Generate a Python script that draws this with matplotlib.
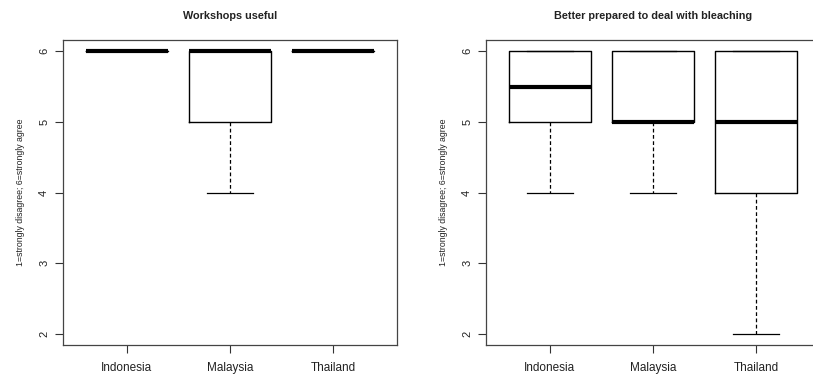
import matplotlib
matplotlib.use("Agg")
from matplotlib import pyplot as plt

plt.rcParams['font.family'] = ['Liberation Sans', 'DejaVu Sans']

COUNTRIES = ["Indonesia", "Malaysia", "Thailand"]
TITLES = ["Workshops useful", "Better prepared to deal with bleaching"]
YLABEL = "1=strongly disagree; 6=strongly agree"

# five-number summaries: (low whisker, q1, median, q3, high whisker)
USEFUL = [
    (6, 6, 6, 6, 6),
    (4, 5, 6, 6, 6),
    (6, 6, 6, 6, 6),
]
PREPARED = [
    (4, 5, 5.5, 6, 6),
    (4, 5, 5, 6, 6),
    (2, 4, 5, 6, 6),
]


def to_stats(rows, labels):
    stats = []
    for (lo, q1, med, q3, hi), lab in zip(rows, labels):
        stats.append(dict(whislo=lo, q1=q1, med=med, q3=q3, whishi=hi,
                          fliers=[], label=lab))
    return stats


W, H = 813, 376
fig = plt.figure(figsize=(W / 100, H / 100), dpi=100)

# axes boxes in pixels (left, top, right, bottom)
boxes = [(63, 40, 397, 345), (486, 40, 820, 345)]

for (l, t, r, b), title, rows in zip(boxes, TITLES, [USEFUL, PREPARED]):
    ax = fig.add_axes([l / W, 1 - b / H, (r - l) / W, (b - t) / H])
    ax.bxp(to_stats(rows, COUNTRIES), widths=0.8, showfliers=False,
           boxprops=dict(color="black", linewidth=1.0),
           medianprops=dict(color="black", linewidth=3.0, solid_capstyle="butt"),
           whiskerprops=dict(color="black", linewidth=0.9, linestyle=(0, (3, 2))),
           capprops=dict(color="black", linewidth=0.9),
           capwidths=0.45)
    ax.set_xlim(0.38, 3.62)
    ax.set_ylim(1.84, 6.16)
    ax.set_yticks([2, 3, 4, 5, 6])
    ax.set_yticklabels(["2", "3", "4", "5", "6"], rotation=90, va="center")
    ax.tick_params(axis="both", direction="out", length=6, width=0.8,
                   color="#333333", labelsize=8.5, labelcolor="#222222")
    ax.tick_params(axis="y", pad=4, labelsize=8)
    ax.tick_params(axis="x", pad=6)
    for s in ax.spines.values():
        s.set_color("#444444")
        s.set_linewidth(0.9)
    ax.set_ylabel(YLABEL, fontsize=6.3, color="#222222", labelpad=10)
    ax.set_title(title, fontsize=7.8, fontweight="bold", color="#222222", pad=15)

fig.savefig("out.png", dpi=100)
